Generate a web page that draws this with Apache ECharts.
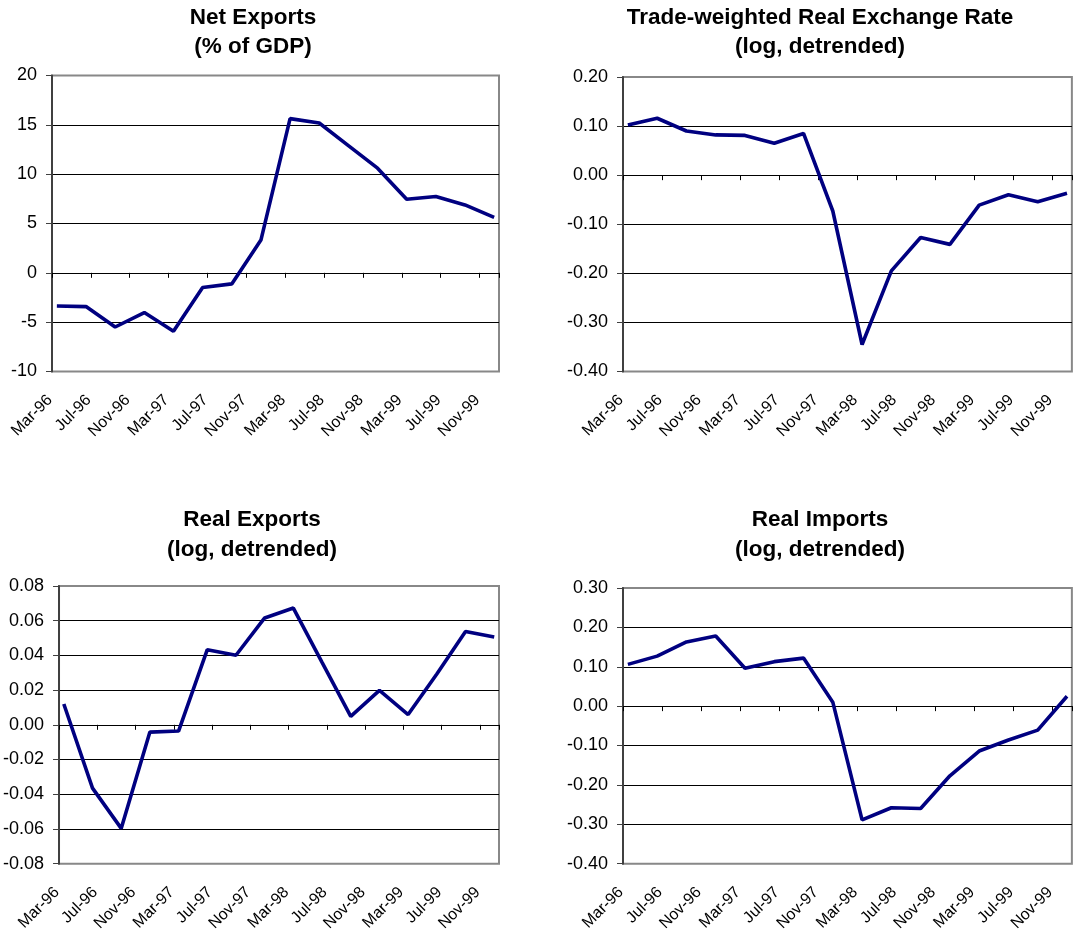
<!DOCTYPE html>
<html>
<head>
<meta charset="utf-8">
<title>Trade charts</title>
<script src="https://cdn.jsdelivr.net/npm/echarts@6/dist/echarts.min.js"></script>
<style>
  html, body { margin: 0; padding: 0; background: #fff; }
  #main { width: 1074px; height: 934px; }
</style>
</head>
<body>
<div id="main"></div>
<script>
// quarterly observations
var quarters = ['Mar-96','Jun-96','Sep-96','Dec-96','Mar-97','Jun-97','Sep-97','Dec-97',
                'Mar-98','Jun-98','Sep-98','Dec-98','Mar-99','Jun-99','Sep-99','Dec-99'];
// labels on the date axis (every 4 months)
var tickLabels = ['Mar-96','Jul-96','Nov-96','Mar-97','Jul-97','Nov-97',
                  'Mar-98','Jul-98','Nov-98','Mar-99','Jul-99','Nov-99'];

var netExports = [-3.36, -3.42, -5.49, -4.03, -5.93, -1.49, -1.12, 3.32,
                  15.63, 15.19, 12.9, 10.61, 7.46, 7.73, 6.88, 5.63];
var realExchangeRate = [0.102, 0.116, 0.090, 0.082, 0.081, 0.065, 0.085, -0.073,
                        -0.345, -0.195, -0.127, -0.141, -0.061, -0.040, -0.054, -0.037];
var realExports = [0.012, -0.0365, -0.0597, -0.0042, -0.0036, 0.0433, 0.0401, 0.0616,
                   0.0673, 0.036, 0.0049, 0.0198, 0.0059, 0.0293, 0.0538, 0.0506];
var realImports = [0.106, 0.127, 0.163, 0.178, 0.096, 0.113, 0.122, 0.010,
                   -0.289, -0.258, -0.260, -0.177, -0.114, -0.086, -0.061, 0.025];

var monthNames = ['Jan','Feb','Mar','Apr','May','Jun','Jul','Aug','Sep','Oct','Nov','Dec'];
// month slot index counted from Mar-96, point drawn in middle of its month
function monthPos(label) {
  var p = label.split('-');
  return (parseInt(p[1], 10) - 96) * 12 + monthNames.indexOf(p[0]) - 2 + 0.5;
}
function pairs(values) {
  return values.map(function (v, i) { return [monthPos(quarters[i]), v]; });
}

var font = "'Liberation Sans', Arial, sans-serif";

var panels = [
  { title: 'Net Exports\n(% of GDP)', cx: 248, ty: -2,
    grid: { left: 52, top: 75.5, width: 447, height: 296 },
    min: -10, max: 20, step: 5, dec: 0, data: netExports },
  { title: 'Trade-weighted Real Exchange Rate\n(log, detrended)', cx: 815, ty: -2,
    grid: { left: 623, top: 77, width: 453, height: 294.5 },
    min: -0.4, max: 0.2, step: 0.1, dec: 2, data: realExchangeRate },
  { title: 'Real Exports\n(log, detrended)', cx: 247, ty: 500.5,
    grid: { left: 53.5, top: 586, width: 445.5, height: 282 },
    min: -0.08, max: 0.08, step: 0.02, dec: 2, data: realExports },
  { title: 'Real Imports\n(log, detrended)', cx: 815, ty: 500.5,
    grid: { left: 623, top: 588, width: 453, height: 278 },
    min: -0.4, max: 0.3, step: 0.1, dec: 2, data: realImports }
];

var option = {
  animation: false,
  title: [], grid: [], xAxis: [], yAxis: [], series: []
};

panels.forEach(function (p, g) {
  option.title.push({
    text: p.title, left: p.cx, top: p.ty, textAlign: 'center',
    textStyle: { fontFamily: font, fontSize: 22.5, fontWeight: 'bold', color: '#000', lineHeight: 29.5 }
  });
  option.grid.push({
    left: p.grid.left, top: p.grid.top, width: p.grid.width, height: p.grid.height,
    show: true, borderColor: '#888', borderWidth: 2
  });
  // date labels along the bottom
  option.xAxis.push({
    type: 'value', gridIndex: g, position: 'bottom', min: 0, max: 46, interval: 4,
    axisLine: { show: false, onZero: false },
    axisTick: { show: false },
    splitLine: { show: false },
    axisLabel: {
      rotate: 45, margin: 24, padding: [0, 3, 0, 0],
      fontFamily: font, fontSize: 16, color: '#000',
      formatter: function (v) { return tickLabels[v / 4] || ''; }
    }
  });
  // the axis line sitting on zero with its ticks
  option.xAxis.push({
    type: 'value', gridIndex: g, position: 'bottom', min: 0, max: 46, interval: 4,
    axisLine: { show: true, onZero: true, lineStyle: { color: '#000', width: 1 } },
    axisTick: { show: true, inside: false, length: 5, lineStyle: { color: '#000', width: 1 } },
    axisLabel: { show: false },
    splitLine: { show: false }
  });
  option.yAxis.push({
    type: 'value', gridIndex: g, min: p.min, max: p.max, interval: p.step,
    axisLine: { show: true, onZero: false, lineStyle: { color: '#404040', width: 2 } },
    axisTick: { show: true, inside: false, length: 6, lineStyle: { color: '#404040', width: 1 } },
    axisLabel: {
      margin: 15, fontFamily: font, fontSize: 18, color: '#000',
      formatter: function (v) { return v.toFixed(p.dec); }
    },
    splitLine: { show: true, showMinLine: false, showMaxLine: false, lineStyle: { color: '#000', width: 1 } }
  });
  option.series.push({
    type: 'line', xAxisIndex: g * 2, yAxisIndex: g,
    data: pairs(p.data), symbol: 'none',
    lineStyle: { color: '#000080', width: 3.6 }
  });
});

var myChart = echarts.init(document.getElementById('main'));
myChart.setOption(option);
</script>
</body>
</html>
